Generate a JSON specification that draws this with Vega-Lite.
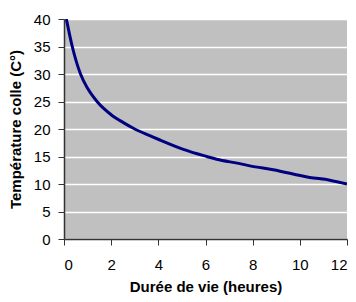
{
  "$schema": "https://vega.github.io/schema/vega-lite/v6.json",
  "autosize": "none",
  "width": 283,
  "height": 220,
  "padding": {"left": 64, "top": 19, "right": 9, "bottom": 63},
  "background": "white",
  "config": {
    "view": {"fill": "#C0C0C0", "stroke": null},
    "font": "Liberation Sans"
  },
  "data": {
    "values": [
      {"x": 0.1, "y": 40},
      {"x": 0.35, "y": 35},
      {"x": 0.7, "y": 30},
      {"x": 1.0, "y": 27.4},
      {"x": 1.4, "y": 25},
      {"x": 2.0, "y": 22.6},
      {"x": 2.5, "y": 21.2},
      {"x": 3.0, "y": 20},
      {"x": 3.64, "y": 18.8},
      {"x": 4.07, "y": 18.0},
      {"x": 5.06, "y": 16.3},
      {"x": 6.05, "y": 15},
      {"x": 6.47, "y": 14.5},
      {"x": 7.46, "y": 13.7},
      {"x": 7.88, "y": 13.3},
      {"x": 8.87, "y": 12.6},
      {"x": 10.42, "y": 11.2},
      {"x": 11.27, "y": 10.7},
      {"x": 12.0, "y": 10.0}
    ]
  },
  "mark": {"type": "line", "color": "#000080", "strokeWidth": 3, "interpolate": "monotone", "clip": true},
  "encoding": {
    "x": {
      "field": "x",
      "type": "quantitative",
      "scale": {"domain": [0, 12], "nice": false, "zero": false},
      "axis": {
        "title": "Durée de vie (heures)",
        "values": [0, 2, 4, 6, 8, 10, 12],
        "grid": false,
        "domainColor": "#333333",
        "domainWidth": 1.5,
        "tickColor": "#333333",
        "tickSize": 6,
        "labelPadding": 12,
        "labelFontSize": 15,
        "labelColor": "#000000",
        "labelFont": "Liberation Sans",
        "titleFont": "Liberation Sans",
        "titleFontSize": 15,
        "titleFontWeight": "bold",
        "titleColor": "#000000",
        "titlePadding": 7
      }
    },
    "y": {
      "field": "y",
      "type": "quantitative",
      "scale": {"domain": [0, 40], "nice": false},
      "axis": {
        "title": "Température colle (C°)",
        "values": [0, 5, 10, 15, 20, 25, 30, 35, 40],
        "grid": true,
        "gridColor": "#FFFFFF",
        "gridWidth": 1.5,
        "domainColor": "#333333",
        "domainWidth": 1.5,
        "tickColor": "#333333",
        "tickSize": 6,
        "labelPadding": 8,
        "labelFontSize": 15,
        "labelColor": "#000000",
        "labelFont": "Liberation Sans",
        "titleFont": "Liberation Sans",
        "titleFontSize": 15,
        "titleFontWeight": "bold",
        "titleColor": "#000000",
        "titlePadding": 10
      }
    }
  }
}
